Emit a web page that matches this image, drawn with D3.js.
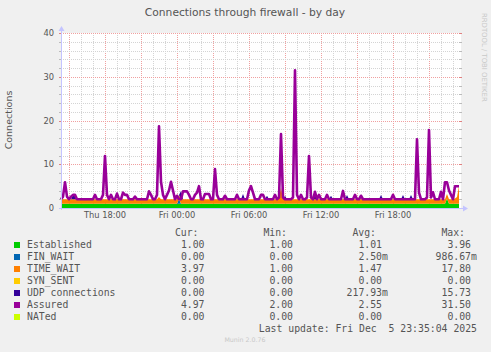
<!DOCTYPE html>
<html>
<head>
<meta charset="utf-8">
<script src="https://cdn.jsdelivr.net/npm/d3@7"></script>
<style>
  html, body { margin: 0; padding: 0; background: #f0f0f0; }
  svg { display: block; }
</style>
</head>
<body>
<div id="chart"></div>
<script>
// 10 minute samples, Thu Dec 4 14:20 -> Fri Dec 5 23:40
const startTime = new Date(2025, 11, 4, 14, 20);
const stepMinutes = 10;

const established = [
  1,1,1,1,1,1,1,1,1,1,1,1,1,1,1,1,1,1,1,1,
  1,1,1,1,1,1,1,1,1,1,1,1,1,1,1,1,1,1,1,1,
  1,1,1,1,1,1,1,1,1,1,1,1,1,1,1,1,1,1,1,1,
  1,1,1,1,1,1,1,1,1,1,1,1,1,1,1,1,1,1,1,1,
  1,1,1,1,1,1,1,1,1,1,1,1,1,1,1,1,1,1,1,1,
  1,1,1,1,1,1,1,1,1,1,1,1,1,1,1,1,1,1,1,1,
  1,1,1,1,1,1,1,1,1,1,1,1,1,1,1,1,1,1,1,1,
  1,1,1,1,1,1,1,1,1,1,1,1,1,1,1,1,1,1,1,1,
  1,1,1,1,1,1,1,1,1,1,1,1,1,1,1,1,1,1,1,1,
  1,1,1,1,1,1,1,1,1,1,1,1,1,2.2,1,1,1,1,1,1
];

const finWait = [
  0,0,0,0,0,0,0,0,0,0,0,0,0,0,0,0,0,0,0,0,
  0,0,0,0,0,0,0,0,0,0,0,0,0,0,0,0,0,0,0,0,
  0,0,0,0,0,0,0,0,0,0,0,0,0,0,0,0,0,0,0,0.99,
  0,0,0,0,0,0,0,0,0,0,0,0,0,0,0,0,0,0,0,0,
  0,0,0,0,0,0,0,0,0,0,0,0,0,0,0,0,0,0,0,0,
  0,0,0,0,0,0,0,0,0,0,0,0,0,0,0,0,0,0,0,0,
  0,0,0,0,0,0,0,0,0,0,0,0,0,0,0,0,0,0,0,0,
  0,0,0,0,0,0,0,0,0,0,0,0,0,0,0,0,0,0,0,0,
  0,0,0,0,0,0,0,0,0,0,0,0,0,0,0,0,0,0,0,0,
  0,0,0,0,0,0,0,0,0,0,0,0,0,0,0,0,0,0,0,0
];

const timeWait = [
  1,1,1,1,1,1,1,1,1,1,1,1,1,1,1,1,1,1,1,1,
  1,1,1,1,1,1,1,1,1,1,1,1,1,1,1,1,1,1,1,1,
  1,1,1,1,1,1,1,1,1,1.5,1,1,1,1,1,1,1,1,1,1,
  1,1,1,1,1,1,1,1,1,1,1,1,1,1,1,1,1,1,1,1,
  1,1,1,1,1,1,1,1,1,1,1,1,1,1,1,1,1,1,1,1,
  1,1,1,1,1,1,1,1,1,1.3,3.7,1,1,1,1,1,1,1,1,1,
  1,1,1,1,1,1,1,1,1,1,1,1,1,1,1,1,1,1,1,1,
  1,1,1,1,1,1,1,1,1,1,1,1,1,1,1,1,1,1,1,1,
  1,1,1,1,1,1,1,1,1,1,1,1,1,1,1,1,1,1,1,1,
  1,1,1,1,1,1,1,1,1,1,1,1,1,1,1,1,1,1.2,1.5,3.97
];

const synSent = [
  0,0,0,0,0,0,0,0,0,0,0,0,0,0,0,0,0,0,0,0,
  0,0,0,0,0,0,0,0,0,0,0,0,0,0,0,0,0,0,0,0,
  0,0,0,0,0,0,0,0,0,0,0,0,0,0,0,0,0,0,0,0,
  0,0,0,0,0,0,0,0,0,0,0,0,0,0,0,0,0,0,0,0,
  0,0,0,0,0,0,0,0,0,0,0,0,0,0,0,0,0,0,0,0,
  0,0,0,0,0,0,0,0,0,0,0,0,0,0,0,0,0,0,0,0,
  0,0,0,0,0,0,0,0,0,0,0,0,0,0,0,0,0,0,0,0,
  0,0,0,0,0,0,0,0,0,0,0,0,0,0,0,0,0,0,0,0,
  0,0,0,0,0,0,0,0,0,0,0,0,0,0,0,0,0,0,0,0,
  0,0,0,0,0,0,0,0,0,0,0,0,0,0,0,0,0,0,0,0
];

const udp = [
  0,0,0,0,0,0,1,1,0,0,0,0,0,0,0,0,0,0,0,0,
  0,0,0,0,0,0,0,0,0,0,0,0,0,0,0,0,0,0,0,0,
  0,0,0,0,0,0,0,0,0,0,0,0,0,0,0,0,0,0,0,0,
  1.9,0,0,0,0,0,0,0,0,0,0,0,0,0,0,0,0,0,0,0,
  0,0,0,0,0,0,0,0,0,0,0,1.2,0,0,0,0,0,0,0,0,
  0,0,0,0.8,0,0,0,0,0,0,0,0,0.8,0,0,0,0,0,0,0,
  0,0,0,0,0,0,0,1.6,0,0,0,0,0,0,0,0.8,0,0,0,0,
  0,0,0,1,0,0,0,0,0,0,0,0,0,0,0,0,0,0,0,0,
  1,0,0,0,0,0,0,0,0,0,0,1,0,0,0,1,0,0,0,0,
  0,0,0,0,0,0,0,0,0,0,0,0,0,0,0,0,0,0,0,0
];

const assured = [
  2,2.6,5.9,2.6,2,2.6,3,3,2,2,2,2,2,2,2,2,2,3,2,2,
  2,3,11.9,3,2,3,2,2,3.3,2,2,3.5,3,3,2,2,2,2.6,2,2,
  2,2,2,2,3.8,3,2,2,3,18.7,6,3,2,3,4,6,4,2,2.8,2,
  2,3.8,3.8,3.8,3,2,2,3,3.5,5,2,2,3.2,3.2,3.2,2,2,8.9,3,2,
  2,2,2.8,2,2,2,2,2,3,2,2,2,2,2,4,5,3.5,2,2,2,
  3,3,2,2,2,2,2,3,2,2.4,16.9,2.4,2,2,2,2,2.4,31.5,3,2,
  3,2,2,2.4,11.9,2.4,2,3.7,2,3,2,2,2,3,2,2,2,2,2,2,
  2,3.9,2,2,2,2,2,3,2,2,2.8,2,2,2,2,2,2,2,2,2,
  2,2,2,2,2,2,3,2,2,2,2,2,2,2,2,2,2,2,15.7,3.5,
  2,2,2,2.4,17.8,2.4,3.6,2,2,2,3.7,2,5.9,5.9,4,3,2,4.97,4.97,4.97
];

const legendNames = ["Established", "FIN_WAIT", "TIME_WAIT", "SYN_SENT", "UDP connections", "Assured", "NATed"];
const legendColors = ["#00cc00", "#0066b3", "#ff8000", "#ffcc00", "#330099", "#990099", "#ccff00"];
const curVals = ["1.00", "0.00", "3.97", "0.00", "0.00", "4.97", "0.00"];
const minVals = ["1.00", "0.00", "1.00", "0.00", "0.00", "2.00", "0.00"];
const avgVals = ["1.01", "2.50m", "1.47", "0.00", "217.93m", "2.55", "0.00"];
const maxVals = ["3.96", "986.67m", "17.80", "0.00", "15.73", "31.50", "0.00"];

const yTicks = [0, 10, 20, 30, 40];

const W = 491, H = 352;
const plot = { left: 61, right: 461, top: 33, bottom: 208 };
const sans = "DejaVu Sans, sans-serif";
const mono = "DejaVu Sans Mono, monospace";
const textColor = "#555";

const svg = d3.select("#chart").append("svg")
  .attr("width", W).attr("height", H);

svg.append("rect").attr("width", W).attr("height", H).attr("fill", "#f0f0f0");

const times = assured.map((d, i) => new Date(startTime.getTime() + i * stepMinutes * 60000));
const endTime = new Date(startTime.getTime() + 200 * stepMinutes * 60000);

const x = d3.scaleTime().domain([startTime, endTime]).range([plot.left, plot.right]);
const y = d3.scaleLinear().domain([0, 40]).range([plot.bottom, plot.top]);

// canvas
svg.append("rect")
  .attr("x", plot.left).attr("y", plot.top)
  .attr("width", plot.right - plot.left).attr("height", plot.bottom - plot.top)
  .attr("fill", "#fff");

// grid
const grid = svg.append("g");
const minorColor = "#d4d4d4", majorColor = "#f0a0a0";

x.ticks(d3.timeHour.every(1)).forEach(t => {
  const major = t.getHours() % 3 === 0;
  grid.append("line")
    .attr("x1", Math.round(x(t)) + 0.5).attr("x2", Math.round(x(t)) + 0.5)
    .attr("y1", plot.top).attr("y2", plot.bottom)
    .attr("stroke", major ? majorColor : minorColor)
    .attr("stroke-dasharray", "1,1");
});
d3.range(0, 41, 2).forEach(v => {
  const major = v % 10 === 0;
  grid.append("line")
    .attr("x1", plot.left).attr("x2", plot.right)
    .attr("y1", Math.round(y(v)) + 0.5).attr("y2", Math.round(y(v)) + 0.5)
    .attr("stroke", major ? majorColor : minorColor)
    .attr("stroke-dasharray", "1,1");
  // little solid ticks at the edges
  [[plot.left - 2, plot.left + 1], [plot.right - 2, plot.right + 1]].forEach(([a, b]) => {
    grid.append("line")
      .attr("x1", a).attr("x2", b)
      .attr("y1", Math.round(y(v)) + 0.5).attr("y2", Math.round(y(v)) + 0.5)
      .attr("stroke", major ? "#e08080" : "#bbb");
  });
});

// stacked areas
const rows = times.map((t, i) => ({
  t: t,
  established: established[i],
  fin_wait: finWait[i],
  time_wait: timeWait[i],
  syn_sent: synSent[i],
  udp: udp[i]
}));
const keys = ["established", "fin_wait", "time_wait", "syn_sent", "udp"];
const stackColors = ["#00cc00", "#0066b3", "#ff8000", "#ffcc00", "#330099"];
const series = d3.stack().keys(keys)(rows);

const area = d3.area()
  .x(d => x(d.data.t))
  .y0(d => y(d[0]))
  .y1(d => y(d[1]));

svg.append("g").selectAll("path")
  .data(series)
  .join("path")
  .attr("d", area)
  .attr("fill", (d, i) => stackColors[i]);

// assured line (LINE2 style, a bit heavy so spikes read as filled)
const line = d3.line().x((d, i) => x(times[i])).y(d => y(d));

svg.append("path")
  .attr("d", line(assured))
  .attr("fill", "none")
  .attr("stroke", "#990099")
  .attr("stroke-width", 2.6)
  .attr("stroke-linejoin", "round");

// axes with arrows
const axisColor = "#c4c4ff";
svg.append("line")
  .attr("x1", plot.left + 0.5).attr("x2", plot.left + 0.5)
  .attr("y1", plot.bottom + 2).attr("y2", plot.top - 3)
  .attr("stroke", axisColor);
svg.append("path")
  .attr("d", `M${plot.left - 2.5},${plot.top - 2} L${plot.left + 3.5},${plot.top - 2} L${plot.left + 0.5},${plot.top - 7} Z`)
  .attr("fill", axisColor);
svg.append("line")
  .attr("x1", plot.left - 2).attr("x2", plot.right + 3)
  .attr("y1", plot.bottom + 0.5).attr("y2", plot.bottom + 0.5)
  .attr("stroke", axisColor);
svg.append("path")
  .attr("d", `M${plot.right + 2},${plot.bottom - 2.5} L${plot.right + 2},${plot.bottom + 3.5} L${plot.right + 7},${plot.bottom + 0.5} Z`)
  .attr("fill", axisColor);

// tick labels
svg.append("g").selectAll("text")
  .data(yTicks)
  .join("text")
  .attr("x", 54).attr("y", d => y(d) + 3)
  .attr("text-anchor", "end")
  .attr("font-family", sans).attr("font-size", 8.3)
  .attr("fill", textColor)
  .text(d => d);

const fmt = d3.timeFormat("%a %H:%M");
svg.append("g").selectAll("text")
  .data(x.ticks(d3.timeHour.every(6)))
  .join("text")
  .attr("x", d => x(d)).attr("y", 218)
  .attr("text-anchor", "middle")
  .attr("font-family", sans).attr("font-size", 8.3)
  .attr("fill", textColor)
  .text(d => fmt(d));

// title and labels
svg.append("text")
  .attr("x", 245).attr("y", 16)
  .attr("text-anchor", "middle")
  .attr("font-family", sans).attr("font-size", 10.7)
  .attr("fill", textColor)
  .text("Connections through firewall - by day");

svg.append("text")
  .attr("transform", "translate(12,120) rotate(-90)")
  .attr("text-anchor", "middle")
  .attr("font-family", sans).attr("font-size", 9.5)
  .attr("fill", textColor)
  .text("Connections");

svg.append("text")
  .attr("transform", "translate(481.5,13) rotate(90)")
  .attr("font-family", sans).attr("font-size", 6.9)
  .attr("fill", "#c8c8c8")
  .text("RRDTOOL / TOBI OETIKER");

// legend
const colEnds = [204.5, 293, 382, 471];
const colHeads = ["Cur:", "Min:", "Avg:", "Max:"];
const cols = [curVals, minVals, avgVals, maxVals];
const legend = svg.append("g")
  .attr("font-family", mono).attr("font-size", 9.8)
  .attr("fill", textColor);

colHeads.forEach((h, c) => {
  legend.append("text")
    .attr("x", colEnds[c] - 6).attr("y", 236)
    .attr("text-anchor", "end")
    .text(h);
});

legendNames.forEach((name, r) => {
  const by = 248 + r * 12;
  legend.append("rect")
    .attr("x", 14).attr("y", by - 6)
    .attr("width", 6).attr("height", 6)
    .attr("fill", legendColors[r]);
  legend.append("text").attr("x", 27).attr("y", by).text(name);
  cols.forEach((vals, c) => {
    const v = vals[r];
    const unit = v.endsWith("m") ? "m" : "";
    legend.append("text")
      .attr("x", colEnds[c]).attr("y", by)
      .attr("text-anchor", "end")
      .text(unit ? v.slice(0, -1) : v);
    if (unit) legend.append("text").attr("x", colEnds[c]).attr("y", by).text(unit);
  });
});

legend.append("text")
  .attr("x", 477).attr("y", 331.5)
  .attr("text-anchor", "end")
  .style("white-space", "pre")
  .text("Last update: Fri Dec  5 23:35:04 2025");

svg.append("text")
  .attr("x", 245).attr("y", 342)
  .attr("text-anchor", "middle")
  .attr("font-family", sans).attr("font-size", 6.3)
  .attr("fill", "#c8c8c8")
  .text("Munin 2.0.76");
</script>
</body>
</html>
